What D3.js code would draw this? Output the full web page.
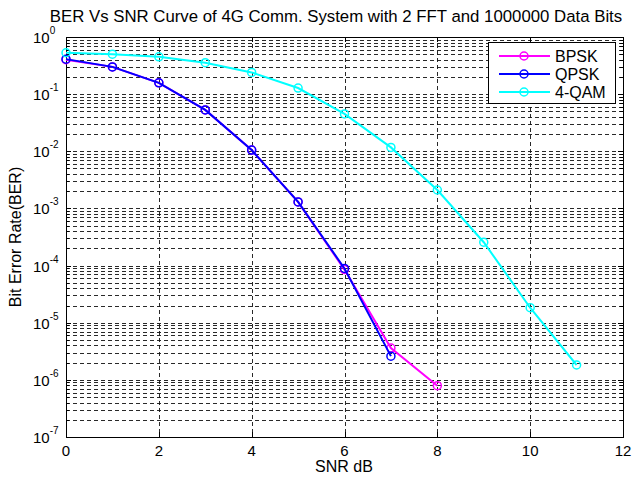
<!DOCTYPE html>
<html>
<head>
<meta charset="utf-8">
<script src="https://cdn.jsdelivr.net/npm/d3@7"></script>
<style>
  body { margin: 0; background: #fff; }
  svg text { font-family: "Liberation Sans", Arial, sans-serif; fill: #000; }
</style>
</head>
<body>
<svg id="chart" width="633" height="479"></svg>
<script>
// values
var snrBpsk = [0, 1, 2, 3, 4, 5, 6, 7, 8];
var berBpsk = [0.40, 0.30, 0.158, 0.053, 0.0105, 0.0013, 8.5e-5, 3.6e-6, 7.9e-7];
var snrQpsk = [0, 1, 2, 3, 4, 5, 6, 7];
var berQpsk = [0.41, 0.30, 0.158, 0.053, 0.0105, 0.0013, 8.9e-5, 2.6e-6];
var snrQam = [0, 1, 2, 3, 4, 5, 6, 7, 8, 9, 10, 11];
var berQam = [0.53, 0.50, 0.45, 0.355, 0.24, 0.128, 0.045, 0.0117, 0.0021, 2.56e-4, 1.83e-5, 1.82e-6];
var xTicks = [0, 2, 4, 6, 8, 10, 12];
var yExponents = [0, -1, -2, -3, -4, -5, -6, -7];

var series = [
  { name: 'BPSK', color: '#ff00ff', x: snrBpsk, y: berBpsk },
  { name: 'QPSK', color: '#0000ff', x: snrQpsk, y: berQpsk },
  { name: '4-QAM', color: '#00ffff', x: snrQam, y: berQam }
];

var svg = d3.select('#chart');
var plotLeft = 66, plotRight = 623, plotTop = 37, plotBottom = 437;

var x = d3.scaleLinear().domain([0, 12]).range([plotLeft, plotRight]);
var y = d3.scaleLog().domain([1e-7, 1]).range([plotBottom, plotTop]);

// grid
var grid = svg.append('g')
  .attr('stroke', '#111')
  .attr('stroke-width', 0.9)
  .attr('stroke-dasharray', '4,3');

var minorValues = [];
yExponents.slice(1).forEach(function (e) {
  for (var m = 1; m < 10; m++) {
    minorValues.push(m * Math.pow(10, e));
  }
});

grid.selectAll('line.h')
  .data(minorValues.filter(function (v) { return v < 1 && v > 1e-7 * 1.0001; }))
  .enter().append('line')
  .attr('class', 'h')
  .attr('x1', plotLeft).attr('x2', plotRight)
  .attr('y1', function (d) { return Math.round(y(d)) + 0.5; })
  .attr('y2', function (d) { return Math.round(y(d)) + 0.5; });

grid.selectAll('line.v')
  .data(xTicks.slice(1, -1))
  .enter().append('line')
  .attr('class', 'v')
  .attr('y1', plotTop).attr('y2', plotBottom)
  .attr('x1', function (d) { return Math.round(x(d)) + 0.5; })
  .attr('x2', function (d) { return Math.round(x(d)) + 0.5; });

// axes box with inward ticks
var axes = svg.append('g').attr('stroke', '#000').attr('stroke-width', 1).attr('fill', 'none');
axes.append('rect')
  .attr('x', plotLeft + 0.5).attr('y', plotTop + 0.5)
  .attr('width', plotRight - plotLeft).attr('height', plotBottom - plotTop);

xTicks.forEach(function (t) {
  var xt = Math.round(x(t)) + 0.5;
  axes.append('line').attr('x1', xt).attr('x2', xt).attr('y1', plotBottom).attr('y2', plotBottom - 5);
  axes.append('line').attr('x1', xt).attr('x2', xt).attr('y1', plotTop).attr('y2', plotTop + 5);
});
minorValues.concat([1]).forEach(function (v) {
  var lg = Math.log10(v);
  var len = Math.abs(lg - Math.round(lg)) < 1e-9 ? 5 : 3;
  var yt = Math.round(y(v)) + 0.5;
  axes.append('line').attr('x1', plotLeft).attr('x2', plotLeft + len).attr('y1', yt).attr('y2', yt);
  axes.append('line').attr('x1', plotRight).attr('x2', plotRight - len).attr('y1', yt).attr('y2', yt);
});

// tick labels
svg.append('g').selectAll('text')
  .data(xTicks)
  .enter().append('text')
  .attr('x', function (d) { return x(d); })
  .attr('y', plotBottom + 19)
  .attr('text-anchor', 'middle')
  .attr('font-size', 15)
  .text(function (d) { return d; });

var yl = svg.append('g').selectAll('text')
  .data(yExponents)
  .enter().append('text')
  .attr('x', 33)
  .attr('y', function (d) { return y(Math.pow(10, d)) + 6; })
  .attr('font-size', 15);
yl.append('tspan').text('10');
yl.append('tspan')
  .attr('font-size', 10)
  .attr('dy', -9)
  .text(function (d) { return d; });

// lines and markers
var line = d3.line()
  .x(function (d) { return x(d[0]); })
  .y(function (d) { return y(d[1]); });

series.forEach(function (s) {
  var pts = s.x.map(function (v, i) { return [v, s.y[i]]; });
  var g = svg.append('g');
  g.append('path')
    .attr('d', line(pts))
    .attr('fill', 'none')
    .attr('stroke', s.color)
    .attr('stroke-width', 2);
  g.selectAll('circle')
    .data(pts)
    .enter().append('circle')
    .attr('cx', function (d) { return x(d[0]); })
    .attr('cy', function (d) { return y(d[1]); })
    .attr('r', 4)
    .attr('fill', 'none')
    .attr('stroke', s.color)
    .attr('stroke-width', 1.5);
});

// legend
var legend = svg.append('g');
legend.append('rect')
  .attr('x', 488.5).attr('y', 42.5)
  .attr('width', 127).attr('height', 61)
  .attr('fill', '#fff')
  .attr('stroke', '#000')
  .attr('stroke-width', 1);
series.forEach(function (s, i) {
  var ly = 56 + i * 18;
  legend.append('line')
    .attr('x1', 499).attr('x2', 550).attr('y1', ly).attr('y2', ly)
    .attr('stroke', s.color).attr('stroke-width', 2);
  legend.append('circle')
    .attr('cx', 524).attr('cy', ly).attr('r', 4)
    .attr('fill', 'none').attr('stroke', s.color).attr('stroke-width', 1.5);
  legend.append('text')
    .attr('x', 555).attr('y', ly + 6)
    .attr('font-size', 16)
    .text(s.name);
});

// title and axis labels
svg.append('text')
  .attr('x', 336).attr('y', 22)
  .attr('text-anchor', 'middle')
  .attr('font-size', 16.8)
  .text('BER Vs SNR Curve of 4G Comm. System with 2 FFT and 1000000 Data Bits');

svg.append('text')
  .attr('x', 344).attr('y', 472)
  .attr('text-anchor', 'middle')
  .attr('font-size', 16)
  .text('SNR dB');

svg.append('text')
  .attr('transform', 'translate(21,' + ((plotTop + plotBottom) / 2) + ') rotate(-90)')
  .attr('text-anchor', 'middle')
  .attr('font-size', 16)
  .text('Bit Error Rate(BER)');
</script>
</body>
</html>
